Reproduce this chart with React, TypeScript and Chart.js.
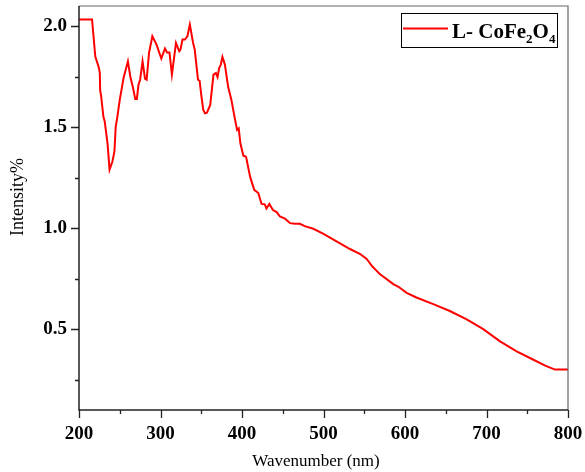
import { useEffect, useRef } from "react";
import { Chart, registerables } from "chart.js";

Chart.register(...registerables);

const wavenumber = [
  200, 216, 220, 224, 225.5, 226, 227, 230, 231.5, 235, 237.5, 241, 243.5, 245, 247,
  250, 255, 257, 260, 263, 266, 269, 271, 273, 275, 278, 281, 283, 286, 290,
  295, 301, 305.5, 308, 311, 314, 319, 323, 324.5, 327, 330, 333, 336, 340, 342,
  346, 348, 350, 352.5, 354.6, 357, 361, 365, 368, 370, 372, 374, 376, 379, 383,
  387, 391.5, 394, 396, 398, 401.6, 405, 410, 415, 420, 424, 428, 430, 433.5, 438,
  442.5, 446.6, 452.8, 459, 465, 471, 477, 487.5, 500, 516, 532.5, 545, 553, 560, 565,
  569, 577.5, 585.6, 592, 602, 614, 634.7, 655, 675.7, 696, 716.6, 737, 757, 772, 784, 800,
];
const intensity = [
  2.033, 2.033, 1.85, 1.8, 1.77, 1.68, 1.66, 1.55, 1.53, 1.42, 1.29, 1.33, 1.38, 1.5, 1.55,
  1.635, 1.75, 1.78, 1.826, 1.75, 1.7, 1.64, 1.64, 1.71, 1.735, 1.826, 1.74, 1.735, 1.87, 1.95,
  1.91, 1.84, 1.89, 1.87, 1.87, 1.76, 1.917, 1.876, 1.884, 1.934, 1.934, 1.95, 2.008, 1.917, 1.884,
  1.735, 1.73, 1.66, 1.585, 1.569, 1.572, 1.61, 1.76, 1.768, 1.748, 1.793, 1.81, 1.848, 1.81, 1.7,
  1.635, 1.536, 1.486, 1.494, 1.42, 1.36, 1.353, 1.254, 1.19, 1.174, 1.12, 1.118, 1.097, 1.12, 1.09,
  1.08, 1.058, 1.047, 1.025, 1.022, 1.022, 1.01, 0.997, 0.972, 0.935, 0.897, 0.872, 0.848, 0.81, 0.79,
  0.773, 0.748, 0.723, 0.71, 0.68, 0.657, 0.624, 0.59, 0.549, 0.5, 0.44, 0.39, 0.35, 0.32, 0.3, 0.3,
];

const xMajorTicks = [200, 300, 400, 500, 600, 700, 800];
const xMinorTicks = [250, 350, 450, 550, 650, 750];
const yMajorTicks = [0.5, 1.0, 1.5, 2.0];
const yMinorTicks = [0.25, 0.75, 1.25, 1.75];

const xTitle = "Wavenumber (nm)";
const yTitle = "Intensity%";
const legendParts = [
  { text: "L- CoFe", sub: false },
  { text: "2", sub: true },
  { text: "O", sub: false },
  { text: "4", sub: true },
];

const SERIF = "'Liberation Serif', 'Times New Roman', serif";
const RED = "#ff0000";

const decorPlugin = {
  id: "decor",
  afterDraw(chart: any) {
    const { ctx, chartArea, scales } = chart;
    const { left, right, top, bottom } = chartArea;
    const xs = scales.x;
    const ys = scales.y;
    ctx.save();
    // frame
    ctx.lineCap = "butt";
    ctx.strokeStyle = "#666";
    ctx.lineWidth = 1.2;
    ctx.beginPath();
    ctx.moveTo(left, top);
    ctx.lineTo(right, top);
    ctx.lineTo(right, bottom);
    ctx.stroke();
    ctx.strokeStyle = "#222";
    ctx.lineWidth = 1.5;
    ctx.beginPath();
    ctx.moveTo(left, top);
    ctx.lineTo(left, bottom);
    ctx.lineTo(right, bottom);
    ctx.stroke();
    // ticks
    ctx.lineWidth = 1.3;
    ctx.beginPath();
    for (const v of xMajorTicks) {
      const px = Math.round(xs.getPixelForValue(v)) + 0.5;
      ctx.moveTo(px, bottom);
      ctx.lineTo(px, bottom + 8);
    }
    for (const v of xMinorTicks) {
      const px = Math.round(xs.getPixelForValue(v)) + 0.5;
      ctx.moveTo(px, bottom);
      ctx.lineTo(px, bottom + 4);
    }
    for (const v of yMajorTicks) {
      const py = Math.round(ys.getPixelForValue(v)) + 0.5;
      ctx.moveTo(left, py);
      ctx.lineTo(left - 8, py);
    }
    for (const v of yMinorTicks) {
      const py = Math.round(ys.getPixelForValue(v)) + 0.5;
      ctx.moveTo(left, py);
      ctx.lineTo(left - 4, py);
    }
    ctx.stroke();

    // axis titles
    ctx.fillStyle = "#000";
    ctx.font = `17px ${SERIF}`;
    ctx.textAlign = "center";
    ctx.textBaseline = "alphabetic";
    ctx.fillText(xTitle, 316, 466);
    ctx.save();
    ctx.translate(23, 197);
    ctx.rotate(-Math.PI / 2);
    ctx.font = `18px ${SERIF}`;
    ctx.fillText(yTitle, 0, 0);
    ctx.restore();

    // legend
    ctx.strokeStyle = "#000";
    ctx.lineWidth = 1;
    ctx.strokeRect(401.5, 13.5, 156, 34);
    ctx.strokeStyle = RED;
    ctx.lineWidth = 2;
    ctx.beginPath();
    ctx.moveTo(403, 28.5);
    ctx.lineTo(448, 28.5);
    ctx.stroke();
    ctx.fillStyle = "#000";
    ctx.textAlign = "left";
    let tx = 452;
    for (const p of legendParts) {
      if (p.sub) {
        ctx.font = `bold 13px ${SERIF}`;
        ctx.fillText(p.text, tx, 43);
      } else {
        ctx.font = `bold 21px ${SERIF}`;
        ctx.fillText(p.text, tx, 37.5);
      }
      tx += ctx.measureText(p.text).width;
    }
    ctx.restore();
  },
};

export default function App() {
  const canvasRef = useRef<HTMLCanvasElement | null>(null);

  useEffect(() => {
    const canvas = canvasRef.current;
    if (!canvas) return;
    const points = wavenumber.map((x, i) => ({ x, y: intensity[i] }));
    const chart = new Chart(canvas, {
      type: "line",
      data: {
        datasets: [
          {
            label: "L- CoFe2O4",
            data: points,
            borderColor: RED,
            borderWidth: 2,
            pointRadius: 0,
            tension: 0,
            fill: false,
          },
        ],
      },
      options: {
        animation: false,
        responsive: false,
        devicePixelRatio: 1,
        layout: { padding: { top: 6, right: 17, left: 0, bottom: 0 } },
        plugins: {
          legend: { display: false },
          tooltip: { enabled: false },
        },
        scales: {
          x: {
            type: "linear",
            min: 200,
            max: 800,
            grid: { display: false, drawTicks: true, tickLength: 8 },
            border: { display: false },
            ticks: {
              color: "#000",
              padding: 5,
              font: { family: SERIF, size: 19, weight: "bold" },
              callback: (v: any) => String(v),
            },
            afterBuildTicks: (scale: any) => {
              scale.ticks = xMajorTicks.map((value) => ({ value }));
            },
            afterFit: (scale: any) => {
              scale.height = 62;
              scale.paddingLeft = 0;
              scale.paddingRight = 0;
              scale.paddingTop = 0;
              scale.paddingBottom = 0;
            },
          },
          y: {
            type: "linear",
            min: 0.1,
            max: 2.1,
            grid: { display: false, drawTicks: true, tickLength: 8 },
            border: { display: false },
            ticks: {
              color: "#000",
              padding: 4,
              font: { family: SERIF, size: 19, weight: "bold" },
              callback: (v: any) => Number(v).toFixed(1),
            },
            afterBuildTicks: (scale: any) => {
              scale.ticks = yMajorTicks.map((value) => ({ value }));
            },
            afterFit: (scale: any) => {
              scale.width = 79;
              scale.paddingLeft = 0;
              scale.paddingRight = 0;
              scale.paddingTop = 0;
              scale.paddingBottom = 0;
            },
          },
        },
      },
      plugins: [decorPlugin],
    });
    return () => chart.destroy();
  }, []);

  return (
    <div style={{ position: "absolute", left: 0, top: 0, width: 585, height: 472, background: "#fff" }}>
      <canvas ref={canvasRef} width={585} height={472} style={{ display: "block", width: 585, height: 472 }} />
    </div>
  );
}
